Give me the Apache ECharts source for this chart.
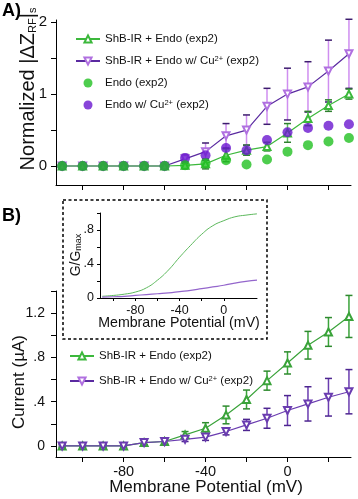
<!DOCTYPE html>
<html><head><meta charset="utf-8">
<script src="https://cdn.jsdelivr.net/npm/echarts@6/dist/echarts.min.js"></script>
<style>html,body{margin:0;padding:0;background:#fff}#c{width:358px;height:499px}</style>
</head><body><div id="c"></div>
<script>
// ---- data ----
const voltage = [-110,-100,-90,-80,-70,-60,-50,-40,-30,-20,-10,0,10,20,30];
// Panel A (normalized |dZ_RF|s)
const aShb      = [0,0,0,0,0,0,0.01,0.03,0.15,0.22,0.27,0.46,0.66,0.84,1.0];
const aShbErr   = [0.02,0.02,0.02,0.02,0.02,0.02,0.05,0.07,0.09,0.07,0.06,0.13,0.1,0.08,0.07];
const aShbCu    = [0,0,0,0,0,0,0.1,0.2,0.42,0.5,0.83,1.0,1.1,1.32,1.56];
const aShbCuErr = [0.02,0.02,0.02,0.02,0.02,0.02,0.06,0.12,0.17,0.21,0.25,0.36,0.35,0.43,0.48];
const aEndo     = [0,0,0,0,0,0,0.01,0.04,0.08,0.02,0.09,0.2,0.29,0.34,0.39];
const aEndoCu   = [0,0,0,0,0,0,0.11,0.15,0.25,0.22,0.36,0.47,0.53,0.56,0.58];
// Panel B (current, uA)
const bShb      = [0,0,0,0,0.03,0.04,0.1,0.16,0.28,0.42,0.59,0.75,0.91,1.03,1.17];
const bShbErr   = [0.01,0.01,0.01,0.01,0.02,0.02,0.03,0.05,0.08,0.085,0.086,0.1,0.125,0.13,0.19];
const bShbCu    = [0,0,0,0,0.03,0.04,0.06,0.08,0.13,0.19,0.25,0.32,0.38,0.44,0.49];
const bShbCuErr = [0.01,0.01,0.01,0.01,0.02,0.02,0.02,0.03,0.03,0.05,0.09,0.135,0.155,0.17,0.2];
// Inset (G/Gmax)
const insetG    = [0.02,0.03,0.045,0.07,0.12,0.21,0.33,0.48,0.62,0.75,0.85,0.91,0.955,0.975,0.99];
const insetGCu  = [0.01,0.015,0.02,0.03,0.04,0.05,0.06,0.075,0.09,0.11,0.13,0.15,0.175,0.195,0.21];
// names / ticks
const nShb = 'ShB-IR + Endo (exp2)';
const nShbCu = 'ShB-IR + Endo w/ Cu2+ (exp2)';
const nEndo = 'Endo (exp2)';
const nEndoCu = 'Endo w/ Cu2+ (exp2)';
const xTicks = [-100,-80,-60,-40,-20,0,20];
const xLabels = [-80,-40,0];
const aYTicks = [0,0.5,1,1.5,2];
const aYLabels = [0,1,2];
const bYTicks = [0,0.2,0.4,0.6,0.8,1.0,1.2,1.4];
const bYLabels = [0,0.4,0.8,1.2];
const iXTicks = [-100,-80,-60,-40,-20,0];
const iYTicks = [0,0.2,0.4,0.6,0.8,1.0];
const iYLabels = [0,0.4,0.8];

const FONT = '"Liberation Sans", Arial, Helvetica, sans-serif';
const pairs = (ys) => voltage.map((v,i)=>[v, ys[i]]);
const decFmt = v => v===0 ? '0' : String(+v.toFixed(2)).replace(/^0\./,'.');

function errSeries(idx, vals, errs, lineColor, capColor, capW, z){
  return {
    type:'custom', xAxisIndex:idx, yAxisIndex:idx, z:z, silent:true,
    encode:{x:0,y:1},
    data: voltage.map((v,i)=>[v, vals[i], errs[i]]),
    renderItem:(params, api)=>{
      const x = api.value(0), y = api.value(1), e = api.value(2);
      const t = api.coord([x, y+e]), b = api.coord([x, y-e]);
      const h = capW/2;
      return {type:'group', children:[
        {type:'line', shape:{x1:t[0],y1:t[1],x2:b[0],y2:b[1]}, style:{stroke:lineColor, lineWidth:1.5}},
        {type:'line', shape:{x1:t[0]-h,y1:t[1],x2:t[0]+h,y2:t[1]}, style:{stroke:capColor, lineWidth:1.5}},
        {type:'line', shape:{x1:b[0]-h,y1:b[1],x2:b[0]+h,y2:b[1]}, style:{stroke:capColor, lineWidth:1.5}}
      ]};
    }
  };
}

function xAxisCfg(idx, showLabels){
  return {
    type:'value', gridIndex:idx, min:-113, max:31,
    axisLine:{onZero:false, lineStyle:{color:'#000', width:1}},
    axisTick:{customValues:xTicks, length:5, lineStyle:{color:'#000'}},
    axisLabel:{show:showLabels, customValues:xLabels, margin:7, fontSize:14.5, color:'#111', fontFamily:FONT},
    splitLine:{show:false}
  };
}

const legendFmt = name => {
  const i = name.indexOf('Cu2+');
  if (i < 0) return '{n|' + name + '}';
  return '{n|' + name.slice(0, i+2) + '}{sup|2+}{n|' + name.slice(i+4) + '}';
};
const legendRich = {n:{fontSize:11.5, fontFamily:FONT, color:'#111'}, sup:{fontSize:7.5, fontFamily:FONT, color:'#111', verticalAlign:'top', lineHeight:6}};

const G = '#3cb83c', GD = '#22c022', P = '#5a2aa0', PD = '#6a16d0';
const GB = '#3aa33a', PB = '#6a3cb0';

const option = {
  animation:false,
  backgroundColor:'#fff',
  textStyle:{fontFamily:FONT},
  grid:[
    {left:56, width:295, top:20, height:165},
    {left:56, width:295, top:291, height:166},
    {left:100, width:157, top:213, height:85}
  ],
  xAxis:[
    xAxisCfg(0,false),
    xAxisCfg(1,true),
    {type:'value', gridIndex:2, min:-112, max:30,
     axisLine:{onZero:false, lineStyle:{color:'#000', width:1}},
     axisTick:{customValues:iXTicks, length:3, lineStyle:{color:'#000'}},
     axisLabel:{customValues:xLabels, margin:6, fontSize:12.5, color:'#111', fontFamily:FONT},
     splitLine:{show:false}}
  ],
  yAxis:[
    {type:'value', gridIndex:0, min:-0.264, max:2.03,
     axisLine:{show:true, onZero:false, lineStyle:{color:'#000'}},
     axisTick:{show:true, customValues:aYTicks, length:5, lineStyle:{color:'#000'}},
     axisLabel:{customValues:aYLabels, margin:9, fontSize:15, color:'#111', fontFamily:FONT},
     splitLine:{show:false}},
    {type:'value', gridIndex:1, min:-0.1, max:1.4,
     axisLine:{show:true, onZero:false, lineStyle:{color:'#000'}},
     axisTick:{show:true, customValues:bYTicks, length:5, lineStyle:{color:'#000'}},
     axisLabel:{customValues:bYLabels, margin:11, fontSize:14, color:'#111', fontFamily:FONT, formatter:decFmt},
     splitLine:{show:false}},
    {type:'value', gridIndex:2, min:0, max:1,
     axisLine:{show:true, onZero:false, lineStyle:{color:'#000'}},
     axisTick:{show:true, customValues:iYTicks, length:3, lineStyle:{color:'#000'}},
     axisLabel:{customValues:iYLabels, margin:6, fontSize:12.5, color:'#111', fontFamily:FONT, formatter:decFmt},
     splitLine:{show:false}}
  ],
  legend:[
    {orient:'vertical', left:70, top:28, itemWidth:24, itemHeight:9, itemGap:10,
     data:[nShb, nShbCu, nEndo, nEndoCu], formatter:legendFmt, textStyle:{rich:legendRich}},
    {orient:'vertical', left:64, top:345, itemWidth:24, itemHeight:9, itemGap:13,
     data:[{name:nShb}, {name:nShbCu}], formatter:legendFmt, textStyle:{rich:legendRich}}
  ],
  series:[
    // Panel A
    errSeries(0, aShbCu, aShbCuErr, '#cf8ef0', '#3d1c6e', 7, 2),
    errSeries(0, aShb, aShbErr, '#5cc05c', '#2f7f2f', 7, 2),
    {type:'line', name:nShbCu, xAxisIndex:0, yAxisIndex:0, data:pairs(aShbCu), z:3,
     symbol:'emptyTriangle', symbolRotate:180, symbolSize:7,
     lineStyle:{color:P, width:1.2}, itemStyle:{color:'#b070e0', borderColor:'#9a5cd6', borderWidth:1}},
    {type:'line', name:nShb, xAxisIndex:0, yAxisIndex:0, data:pairs(aShb), z:3,
     symbol:'emptyTriangle', symbolSize:7,
     lineStyle:{color:G, width:1.2}, itemStyle:{color:G, borderColor:G, borderWidth:1}},
    {type:'scatter', name:nEndoCu, xAxisIndex:0, yAxisIndex:0, data:pairs(aEndoCu), z:4,
     symbol:'circle', symbolSize:10, itemStyle:{color:PD}},
    {type:'scatter', name:nEndo, xAxisIndex:0, yAxisIndex:0, data:pairs(aEndo), z:5,
     symbol:'circle', symbolSize:10, itemStyle:{color:GD}},
    // Panel B
    errSeries(1, bShb, bShbErr, GB, '#2e8a2e', 7, 2),
    errSeries(1, bShbCu, bShbCuErr, PB, '#4d2590', 7, 2),
    {type:'line', name:nShb, xAxisIndex:1, yAxisIndex:1, data:pairs(bShb), z:3,
     symbol:'emptyTriangle', symbolSize:7,
     lineStyle:{color:GB, width:1.2}, itemStyle:{color:GB, borderColor:GB, borderWidth:1}},
    {type:'line', name:nShbCu, xAxisIndex:1, yAxisIndex:1, data:pairs(bShbCu), z:3,
     symbol:'emptyTriangle', symbolRotate:180, symbolSize:7,
     lineStyle:{color:PB, width:1.2}, itemStyle:{color:PB, borderColor:PB, borderWidth:1}},
    // Inset
    {type:'line', xAxisIndex:2, yAxisIndex:2, data:pairs(insetG), smooth:true, showSymbol:false, silent:true,
     lineStyle:{color:'#5cb85c', width:1}},
    {type:'line', xAxisIndex:2, yAxisIndex:2, data:pairs(insetGCu), smooth:true, showSymbol:false, silent:true,
     lineStyle:{color:'#9466cc', width:1.2}}
  ],
  graphic:[
    {type:'text', left:2, top:2, style:{text:'A)', font:'bold 18px '+FONT, fill:'#000'}},
    {type:'text', left:2, top:207, style:{text:'B)', font:'bold 18px '+FONT, fill:'#000'}},
    {type:'rect', shape:{x:63, y:200, width:204, height:139}, style:{fill:'none', stroke:'#000', lineWidth:1.5, lineDash:[3,2.5]}, z:10},
    {type:'text', x:28, y:89, rotation:Math.PI/2,
     style:{text:'{a|Normalized |ΔZ}{s|RF}{a||}{s|s}', align:'center', verticalAlign:'middle',
       rich:{a:{fontSize:20, fontFamily:FONT, fill:'#111'}, s:{fontSize:11, fontFamily:FONT, fill:'#111', verticalAlign:'bottom', lineHeight:6}}}},
    {type:'text', x:19, y:382, rotation:Math.PI/2,
     style:{text:'Current (µA)', align:'center', verticalAlign:'middle', font:'17px '+FONT, fill:'#111'}},
    {type:'text', x:206, y:487,
     style:{text:'Membrane Potential (mV)', align:'center', verticalAlign:'middle', font:'17px '+FONT, fill:'#111'}},
    {type:'text', x:179, y:323,
     style:{text:'Membrane Potential (mV)', align:'center', verticalAlign:'middle', font:'14.2px '+FONT, fill:'#111'}},
    {type:'text', x:76, y:255, rotation:Math.PI/2,
     style:{text:'{a|G/G}{s|max}', align:'center', verticalAlign:'middle',
       rich:{a:{fontSize:14, fontFamily:FONT, fill:'#111'}, s:{fontSize:9, fontFamily:FONT, fill:'#111', verticalAlign:'bottom', lineHeight:5}}}}
  ]
};
const chart = echarts.init(document.getElementById('c'), null, {renderer:'canvas'});
chart.setOption(option);
</script></body></html>
